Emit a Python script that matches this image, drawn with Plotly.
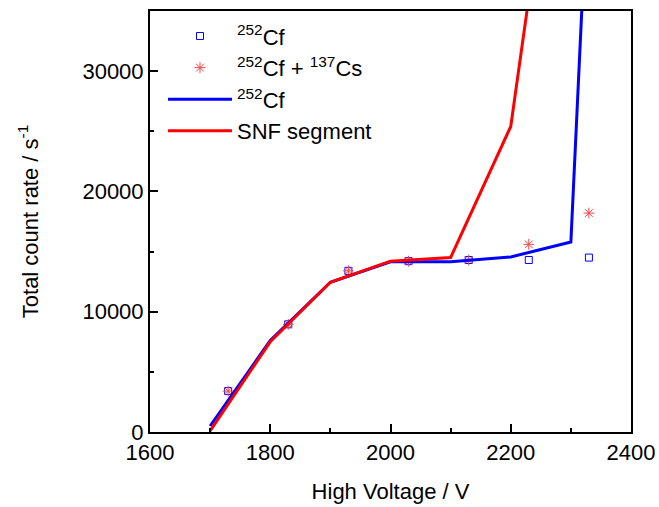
import plotly.graph_objects as go

# measured points
hv_pts = [1730, 1830, 1930, 2030, 2130, 2230, 2330]
cf_pts = [3400, 8950, 13400, 14200, 14300, 14300, 14500]
cfcs_pts = [3400, 8950, 13400, 14200, 14300, 15600, 18200]

# lines
hv_cf_line = [1700, 1800, 1900, 2000, 2100, 2200, 2300, 2400]
cf_line = [500, 7600, 12450, 14150, 14150, 14550, 15800, 122000]
hv_snf_line = [1700, 1800, 1900, 2000, 2100, 2200, 2300]
snf_line = [100, 7500, 12450, 14200, 14500, 25400, 61000]

font = dict(family="Liberation Sans, Arial, sans-serif", size=22, color="black")

fig = go.Figure()
fig.add_trace(go.Scatter(x=hv_pts, y=cf_pts, mode="markers", name="<sup>252</sup>Cf",
                         marker=dict(symbol="square-open", size=7, color="blue", line=dict(width=1))))
fig.add_trace(go.Scatter(x=hv_pts, y=cfcs_pts, mode="markers", name="<sup>252</sup>Cf + <sup>137</sup>Cs",
                         marker=dict(symbol="asterisk-open", size=9, color="#f04848", line=dict(width=1, color="#f04848"))))
fig.add_trace(go.Scatter(x=hv_cf_line, y=cf_line, mode="lines", name="<sup>252</sup>Cf",
                         line=dict(color="blue", width=3)))
fig.add_trace(go.Scatter(x=hv_snf_line, y=snf_line, mode="lines", name="SNF segment",
                         line=dict(color="red", width=3)))

axis_common = dict(showline=True, linecolor="black", linewidth=2, mirror=True,
                   ticks="inside", ticklen=8, tickwidth=2, tickcolor="black",
                   showgrid=False, zeroline=False, tickfont=font, tickformat="d",
                   automargin=False)
fig.update_xaxes(range=[1600, 2400], tickvals=[1600, 1800, 2000, 2200, 2400],
                 minor=dict(ticks="inside", ticklen=4, tickwidth=2, tickcolor="black", dtick=100, tick0=1600),
                 title=dict(text="High Voltage / V", font=font, standoff=19), **axis_common)
fig.update_yaxes(range=[0, 35000], tickvals=[0, 10000, 20000, 30000],
                 minor=dict(ticks="inside", ticklen=4, tickwidth=2, tickcolor="black", dtick=5000, tick0=0),
                 title=dict(text="Total count rate / s<sup>-1</sup>", font=font, standoff=38), **axis_common)

fig.update_layout(width=659, height=507, margin=dict(l=150, r=28, t=11, b=75),
                  plot_bgcolor="white", paper_bgcolor="white", font=font,
                  legend=dict(x=0.027, y=0.99, xanchor="left", yanchor="top", bgcolor="rgba(0,0,0,0)",
                              font=font, tracegroupgap=0, itemwidth=64))
fig.write_html("out.html")
